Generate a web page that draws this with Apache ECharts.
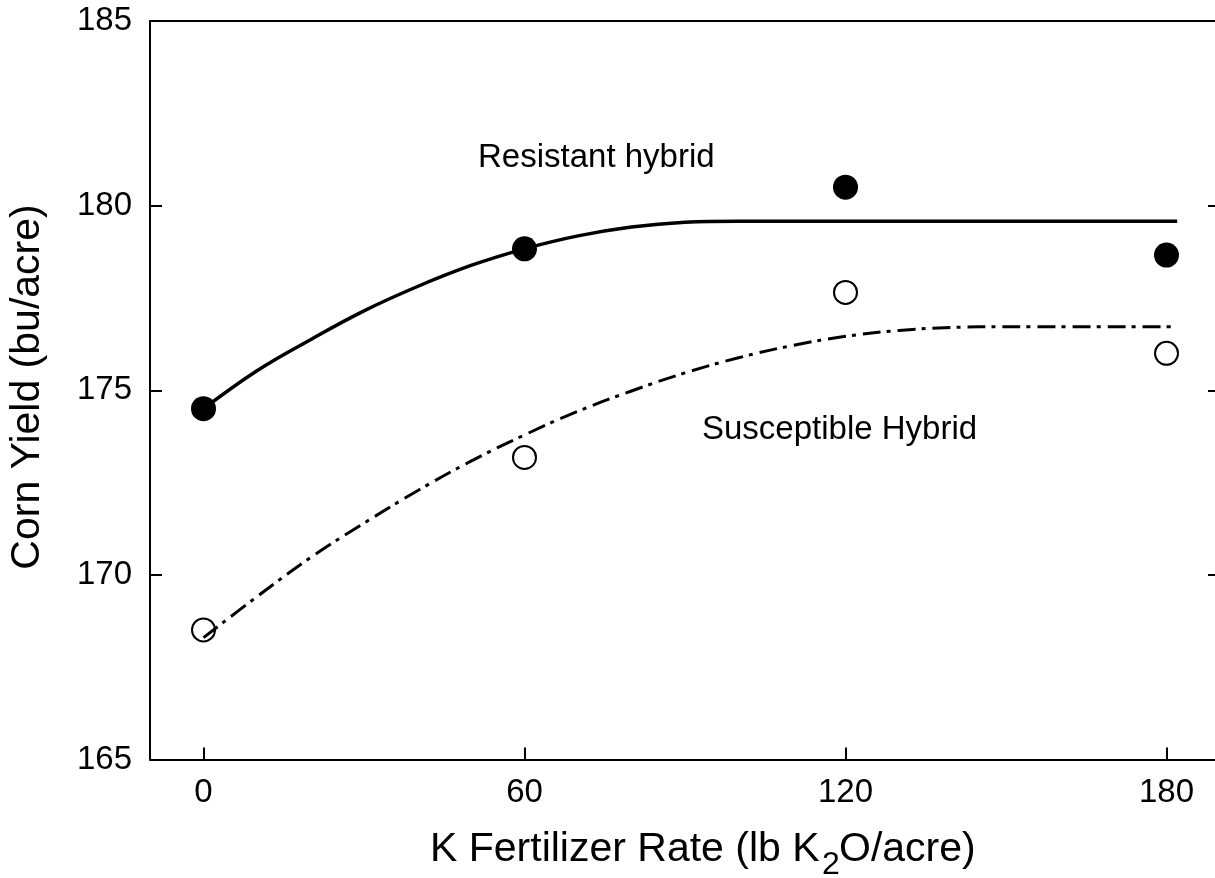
<!DOCTYPE html>
<html>
<head>
<meta charset="utf-8">
<script src="https://cdn.jsdelivr.net/npm/echarts@6/dist/echarts.min.js"></script>
<style>
  html, body { margin: 0; padding: 0; background: #fff; }
  #chart { width: 1215px; height: 878px; }
</style>
</head>
<body>
<div id="chart"></div>
<script>
// K rate (lb K2O/acre)
const rates = [0, 60, 120, 180];
// observed yields (bu/acre)
const resistantObs = [174.5, 178.83, 180.5, 178.66];
const susceptibleObs = [168.51, 173.18, 177.65, 176.0];

// fitted curves
const fitX = [0, 10, 20, 30, 40, 50, 60, 70, 80, 90, 100, 110, 120, 130, 140, 150, 182];
const resistantFit = [174.5, 175.53, 176.37, 177.15, 177.81, 178.38, 178.83, 179.18, 179.42,
  179.55, 179.58, 179.58, 179.58, 179.58, 179.58, 179.58, 179.58];
const susceptibleFit = [168.3, 169.41, 170.47, 171.4, 172.28, 173.08, 173.79, 174.43, 174.98,
  175.47, 175.88, 176.21, 176.46, 176.62, 176.7, 176.72, 176.72];

const yTicks = [165, 170, 175, 180, 185];

const FONT = "'Liberation Sans', Arial, sans-serif";
const pair = (xs, ys) => xs.map((x, i) => [x, ys[i]]);

const chart = echarts.init(document.getElementById('chart'));

const axisLine = { show: true, onZero: false, lineStyle: { color: '#000', width: 2 } };

chart.setOption({
  animation: false,
  backgroundColor: '#fff',
  grid: { left: 150, top: 21, width: 1070, height: 738.5, outerBoundsMode: 'none' },
  xAxis: [
    {
      type: 'value',
      min: -10,
      max: 190,
      position: 'bottom',
      axisLine: axisLine,
      axisTick: { show: true, inside: true, length: 12, customValues: rates,
        lineStyle: { color: '#000', width: 2 } },
      axisLabel: { customValues: rates, fontSize: 33, color: '#000', fontFamily: FONT, margin: 17 },
      splitLine: { show: false },
    },
    {
      type: 'value',
      min: -10,
      max: 190,
      position: 'top',
      axisLine: axisLine,
      axisTick: { show: false },
      axisLabel: { show: false },
      splitLine: { show: false },
    },
  ],
  yAxis: [
    {
      type: 'value',
      min: yTicks[0],
      max: yTicks[yTicks.length - 1],
      interval: 5,
      position: 'left',
      axisLine: axisLine,
      axisTick: { show: true, inside: true, length: 12, lineStyle: { color: '#000', width: 2 } },
      axisLabel: { fontSize: 33, color: '#000', fontFamily: FONT, margin: 18 },
      splitLine: { show: false },
    },
    {
      type: 'value',
      min: yTicks[0],
      max: yTicks[yTicks.length - 1],
      interval: 5,
      position: 'right',
      axisLine: axisLine,
      axisTick: { show: true, inside: true, length: 12, lineStyle: { color: '#000', width: 2 } },
      axisLabel: { show: false },
      splitLine: { show: false },
    },
  ],
  series: [
    {
      name: 'Resistant fit',
      type: 'line',
      data: pair(fitX, resistantFit),
      smooth: 0.4,
      symbol: 'none',
      lineStyle: { color: '#000', width: 3.5 },
      z: 2,
    },
    {
      name: 'Susceptible fit',
      type: 'line',
      data: pair(fitX, susceptibleFit),
      smooth: 0.4,
      symbol: 'none',
      lineStyle: { color: '#000', width: 3, type: [18, 6, 4, 7], cap: 'butt' },
      z: 2,
    },
    {
      name: 'Resistant hybrid',
      type: 'scatter',
      data: pair(rates, resistantObs),
      symbol: 'circle',
      symbolSize: 25,
      itemStyle: { color: '#000', opacity: 1 },
      z: 3,
    },
    {
      name: 'Susceptible Hybrid',
      type: 'scatter',
      data: pair(rates, susceptibleObs),
      symbol: 'circle',
      symbolSize: 23,
      itemStyle: { color: 'rgba(255,255,255,0)', borderColor: '#000', borderWidth: 2, opacity: 1 },
      z: 3,
    },
  ],
  graphic: [
    {
      type: 'text', x: 478, y: 158,
      style: { text: 'Resistant hybrid', font: '33px ' + FONT, fill: '#000',
        align: 'left', verticalAlign: 'middle' },
    },
    {
      type: 'text', x: 702, y: 430,
      style: { text: 'Susceptible Hybrid', font: '33px ' + FONT, fill: '#000',
        align: 'left', verticalAlign: 'middle' },
    },
    {
      type: 'text', x: 28, y: 387, rotation: Math.PI / 2,
      style: { text: 'Corn Yield (bu/acre)', font: '41px ' + FONT, fill: '#000',
        align: 'center', verticalAlign: 'middle' },
    },
    {
      type: 'text', x: 430, y: 850,
      style: { text: 'K Fertilizer Rate (lb K', font: '41px ' + FONT, fill: '#000',
        align: 'left', verticalAlign: 'middle' },
    },
    {
      type: 'text', x: 822, y: 865,
      style: { text: '2', font: '32px ' + FONT, fill: '#000',
        align: 'left', verticalAlign: 'middle' },
    },
    {
      type: 'text', x: 839, y: 850,
      style: { text: 'O/acre)', font: '41px ' + FONT, fill: '#000',
        align: 'left', verticalAlign: 'middle' },
    },
  ],
});
</script>
</body>
</html>
